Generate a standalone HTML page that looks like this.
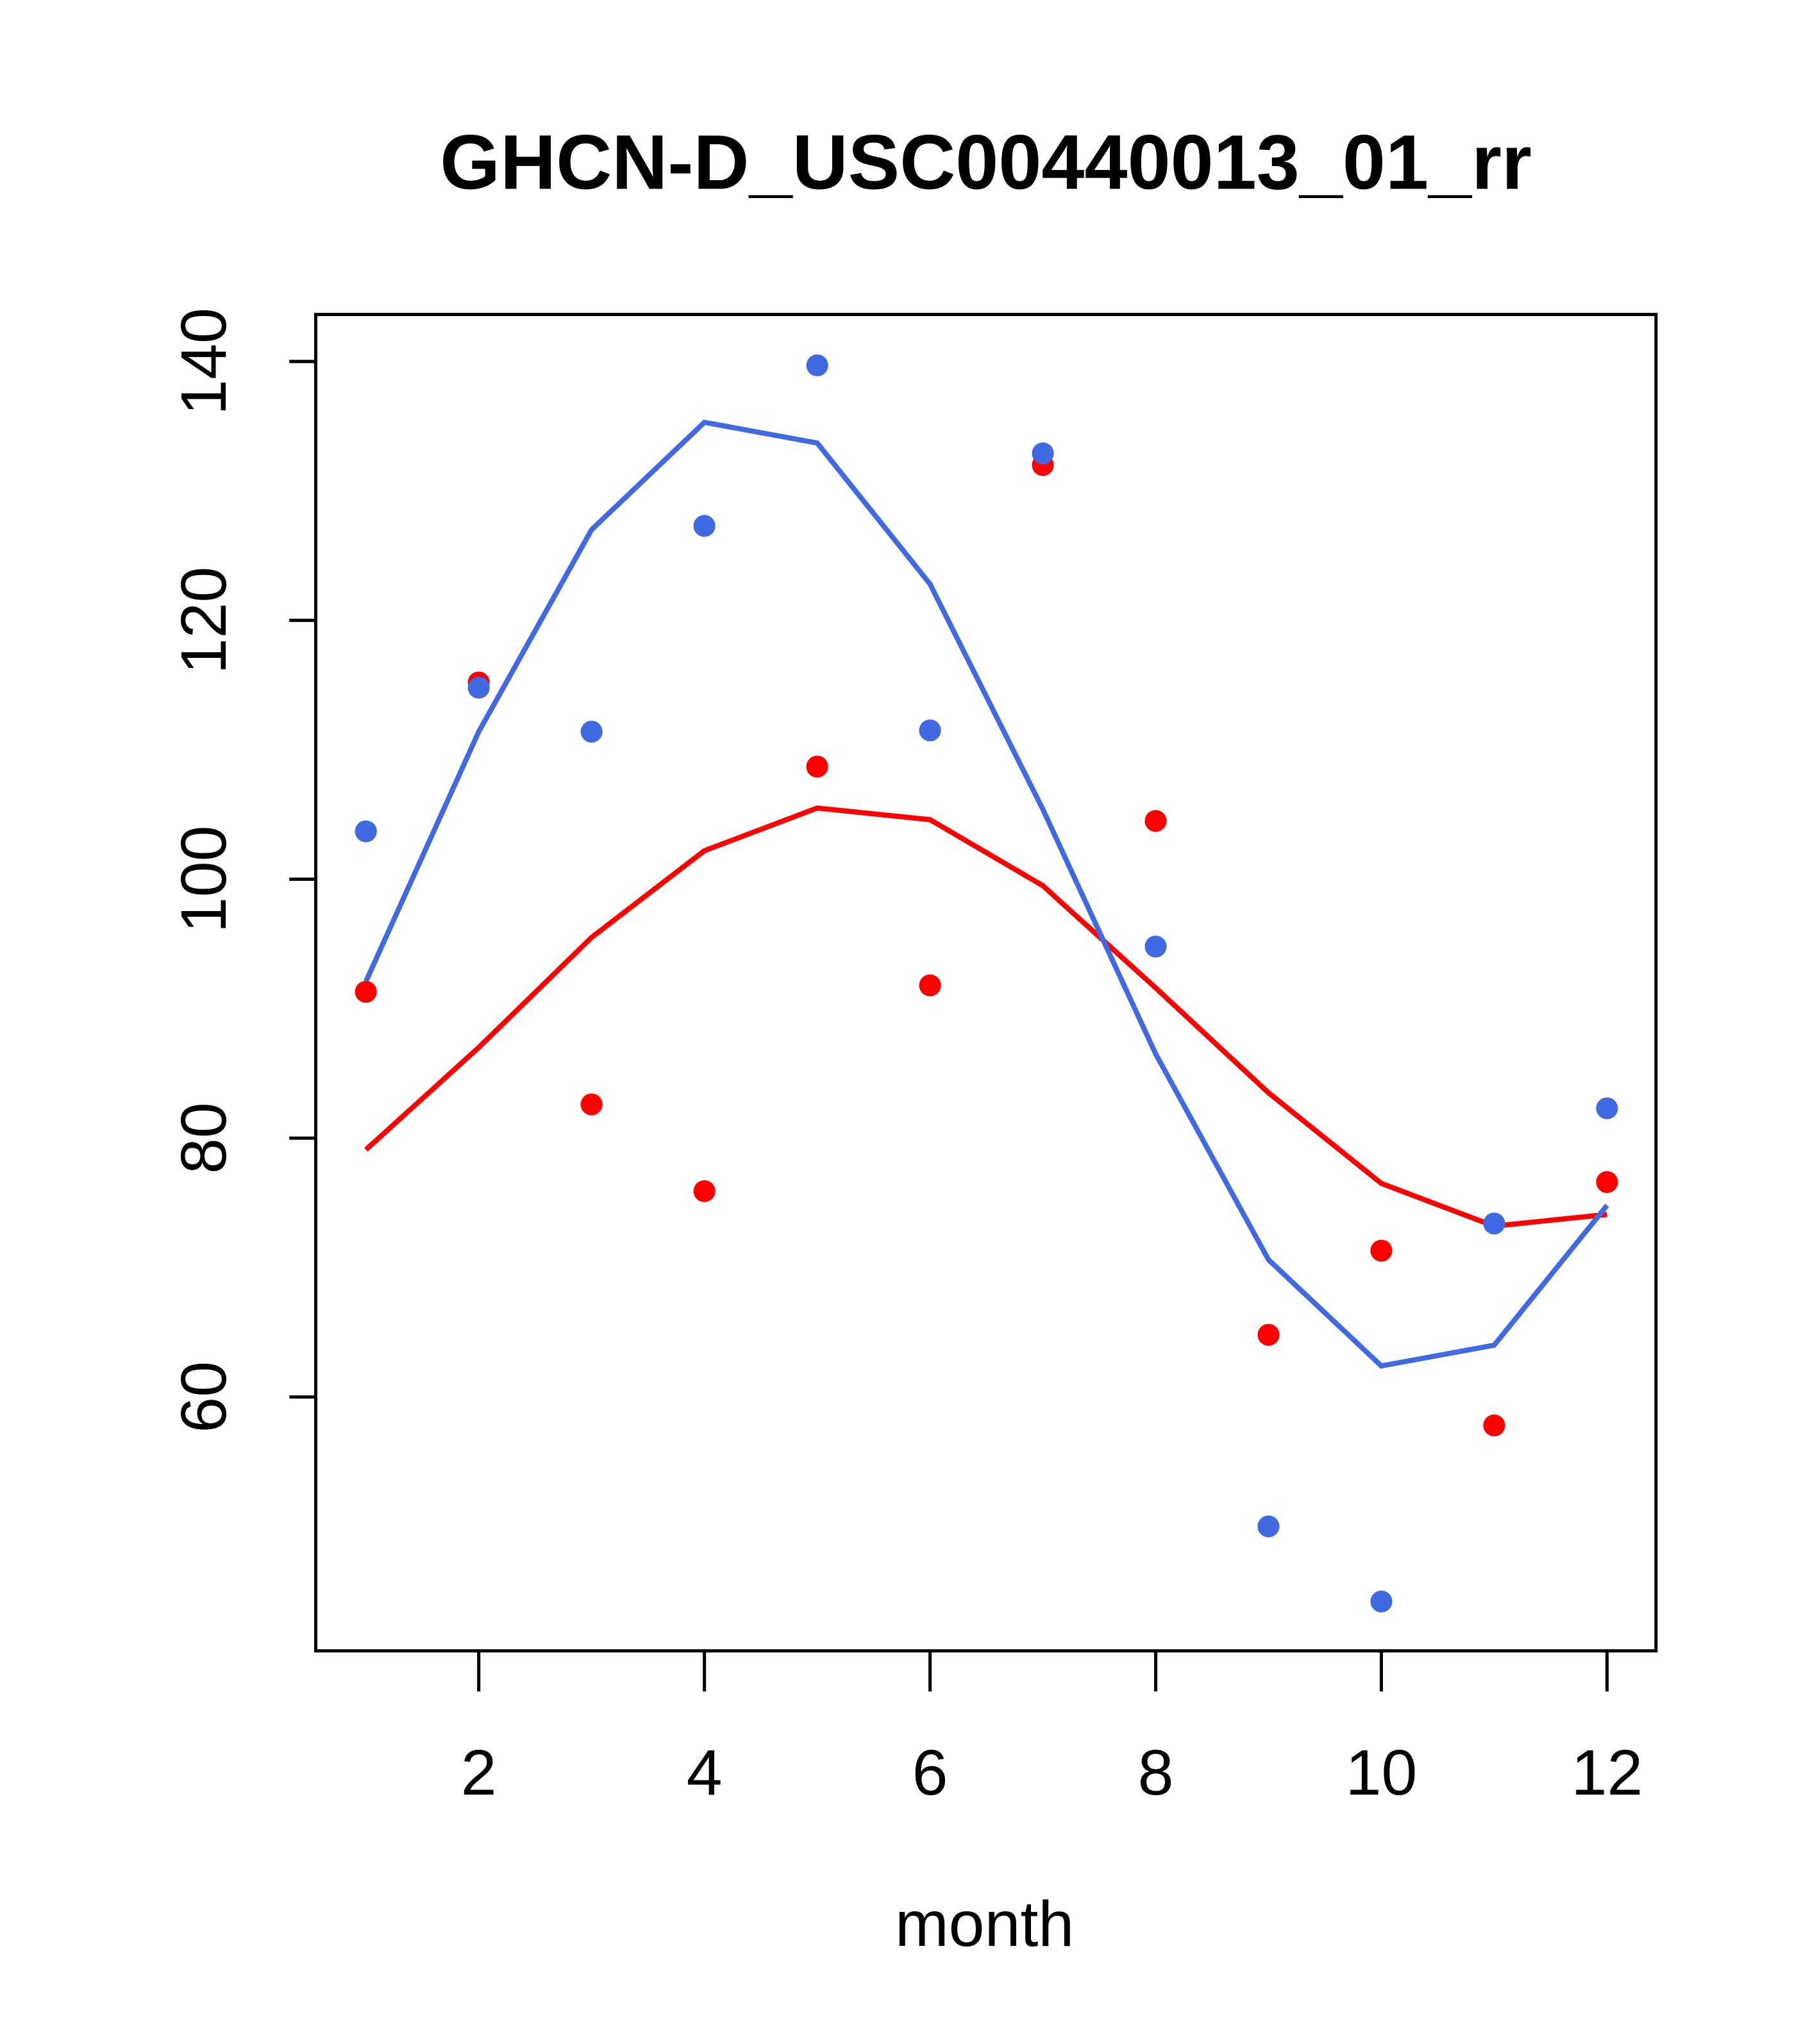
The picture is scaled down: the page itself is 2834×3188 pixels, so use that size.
<!DOCTYPE html>
<html><head><meta charset="utf-8"><style>html,body{margin:0;padding:0;background:#fff}svg{display:block}</style></head>
<body>
<svg width="2834" height="3188" viewBox="0 0 2834 3188" xmlns="http://www.w3.org/2000/svg" font-family="Liberation Sans, Arial, sans-serif">
<rect width="2834" height="3188" fill="#fff"/>
<g transform="scale(1.005)">
<text x="1530" y="293" font-size="120" font-weight="bold" text-anchor="middle">GHCN-D_USC00440013_01_rr</text>
<g id="plot"></g>
<rect x="490" y="488" width="2080" height="2074" fill="none" stroke="#000" stroke-width="5"/>
<text x="1528" y="3020" font-size="100" text-anchor="middle">month</text>
</g>
<script>
const months=[1,2,3,4,5,6,7,8,9,10,11,12];
const bluePoints=[103.7,114.8,111.4,127.3,139.7,111.5,132.9,94.8,50.0,44.2,73.4,82.3];
const redPoints=[91.3,115.2,82.6,75.9,108.7,91.8,132.0,104.5,64.8,71.3,57.8,76.6];
const blueLine=[92.1,111.4,127.0,135.3,133.7,122.8,105.4,86.5,70.6,62.4,64.0,74.8];
const redLine=[79.1,87.0,95.5,102.2,105.5,104.6,99.5,91.6,83.5,76.5,73.2,74.1];
const xTicks=[2,4,6,8,10,12];
const yTicks=[60,80,100,120,140];
const NS='http://www.w3.org/2000/svg';
const g=document.getElementById('plot');
function X(m){return 743+(m-2)*175.1;}
function Y(v){return 561+(140-v)*(2168-561)/80;}
function mk(t,a){const e=document.createElementNS(NS,t);for(const k in a)e.setAttribute(k,a[k]);g.appendChild(e);return e;}
xTicks.forEach(t=>{
 const l=mk('line',{x1:X(t),x2:X(t),y1:2562,y2:2625,stroke:'#000','stroke-width':5});
 
 
 const tx=mk('text',{x:X(t),y:2785,'font-size':100,'text-anchor':'middle'});tx.textContent=t;
 
 
});
yTicks.forEach(t=>{
 const l=mk('line',{x1:449,x2:490,y1:Y(t),y2:Y(t),stroke:'#000','stroke-width':5});
 
 
 const tx=mk('text',{x:0,y:0,'font-size':100,'text-anchor':'middle',transform:`translate(350,${Y(t)}) rotate(-90)`});tx.textContent=t;
 
 
});
function line(vals,col,name){
 const p=mk('polyline',{points:vals.map((v,i)=>X(months[i])+','+Y(v)).join(' '),fill:'none',stroke:col,'stroke-width':8});
 
 
}
function pts(vals,col,name){
 vals.forEach((v,i)=>{
  const c=mk('circle',{cx:X(months[i]),cy:Y(v),r:17,fill:col});
  
  
 });
}
line(redLine,'#ff0000','red-smooth-line');
line(blueLine,'#4169e1','blue-smooth-line');
pts(redPoints,'#ff0000','red-point');
pts(bluePoints,'#4169e1','blue-point');
</script>
</svg>
</body></html>
